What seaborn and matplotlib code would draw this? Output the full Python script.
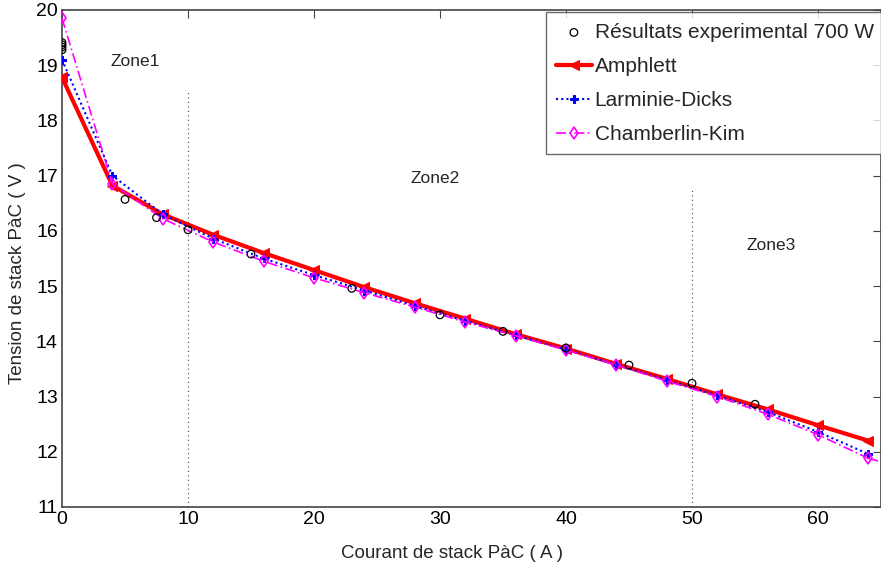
import numpy as np
import pandas as pd
import matplotlib
matplotlib.use("Agg")
import matplotlib.pyplot as plt
import seaborn as sns

# --- data ---
x_model = [0, 4, 8, 12, 16, 20, 24, 28, 32, 36, 40, 44, 48, 52, 56, 60, 64]
amphlett = [18.78, 16.82, 16.3, 15.93, 15.6, 15.29, 14.98, 14.69, 14.41, 14.13,
            13.87, 13.59, 13.32, 13.04, 12.77, 12.48, 12.2]
larminie = [19.1, 17.0, 16.3, 15.86, 15.5, 15.2, 14.92, 14.64, 14.37, 14.11,
            13.85, 13.58, 13.3, 13.02, 12.72, 12.36, 11.96]
chamberlin = [19.85, 16.85, 16.22, 15.8, 15.45, 15.15, 14.88, 14.62, 14.35, 14.1,
              13.84, 13.57, 13.28, 13.0, 12.68, 12.31, 11.88]
x_exp = [0, 0, 0, 0, 5, 7.5, 10, 15, 23, 30, 35, 40, 45, 50, 55]
y_exp = [19.28, 19.33, 19.37, 19.41, 16.57, 16.24, 16.02, 15.58, 14.96, 14.48,
         14.18, 13.88, 13.57, 13.24, 12.86]
x_ticks = [0, 10, 20, 30, 40, 50, 60]
y_ticks = [11, 12, 13, 14, 15, 16, 17, 18, 19, 20]

sns.set_theme(style="white")
plt.rcParams['font.family'] = ['Liberation Sans', 'DejaVu Sans']

fig = plt.figure(figsize=(8.81, 5.68), dpi=100)
ax = fig.add_axes([0.0704, 0.1074, 0.9296, 0.875])

df_exp = pd.DataFrame({"I": x_exp, "V": y_exp})
df_a = pd.DataFrame({"I": x_model, "V": amphlett})
df_l = pd.DataFrame({"I": x_model, "V": larminie})
df_c = pd.DataFrame({"I": x_model, "V": chamberlin})

sns.scatterplot(data=df_exp, x="I", y="V", ax=ax, marker="o", s=30,
                facecolor="none", edgecolor="black", linewidth=0.9,
                label="Résultats experimental 700 W", zorder=5)
sns.lineplot(data=df_a, x="I", y="V", ax=ax, color="#ff0000", linewidth=3,
             marker="<", markersize=7, markeredgecolor="#ff0000",
             label="Amphlett", zorder=3)
sns.lineplot(data=df_l, x="I", y="V", ax=ax, color="#0000ff", linewidth=1.5,
             linestyle=(0, (1, 1.5)), marker="P", markersize=6,
             markeredgecolor="#0000ff", label="Larminie-Dicks", zorder=4)
# extend Chamberlin-Kim slightly to the right edge
ax.plot([64, 65], [chamberlin[-1], chamberlin[-1] - 0.06], color="#ff00ff",
        linewidth=1.2, linestyle=(0, (6, 2, 1, 2)), zorder=4)
sns.lineplot(data=df_c, x="I", y="V", ax=ax, color="#ff00ff", linewidth=1.2,
             linestyle=(0, (6, 2, 1, 2)), marker="d", markersize=6,
             markerfacecolor="none", markeredgecolor="#ff00ff",
             markeredgewidth=1.2, label="Chamberlin-Kim", zorder=4)

# zone separators
ax.plot([10, 10], [11, 18.55], color="#444444", linestyle=(0, (1, 3)), linewidth=0.8)
ax.plot([50, 50], [11, 16.8], color="#444444", linestyle=(0, (1, 3)), linewidth=0.8)
ax.text(5.8, 19.06, "Zone1", fontsize=12.5, ha="center", va="center")
ax.text(29.6, 16.95, "Zone2", fontsize=12.5, ha="center", va="center")
ax.text(56.3, 15.73, "Zone3", fontsize=12.5, ha="center", va="center")

ax.set_xlim(0, 65)
ax.set_ylim(11, 20)
ax.set_xticks(x_ticks)
ax.set_yticks(y_ticks)
ax.set_xlabel("Courant de stack PàC ( A )", fontsize=13.5)
ax.set_ylabel("Tension de stack PàC ( V )", fontsize=13.5)
ax.xaxis.set_label_coords(0.476, -0.076)
ax.yaxis.set_label_coords(-0.044, 0.471)
ax.tick_params(axis="both", direction="in", top=True, right=True, length=6,
               width=0.8, labelsize=14, colors="#444444", labelcolor="black",
               pad=3)
for lab in ax.get_xticklabels() + ax.get_yticklabels():
    lab.set_fontfamily(['Liberation Sans Narrow', 'Liberation Sans'])
for s in ax.spines.values():
    s.set_color("#444444")
    s.set_linewidth(1.2)

leg = ax.legend(loc="upper right", fontsize=15, frameon=True, fancybox=False,
                bbox_to_anchor=(1.004, 0.995),
                borderaxespad=0.0, handlelength=1.7, handletextpad=0.15,
                labelspacing=0.72, borderpad=0.5)
leg.get_frame().set_edgecolor("#444444")
leg.get_frame().set_linewidth(1.0)

fig.savefig("out.png", dpi=100)
